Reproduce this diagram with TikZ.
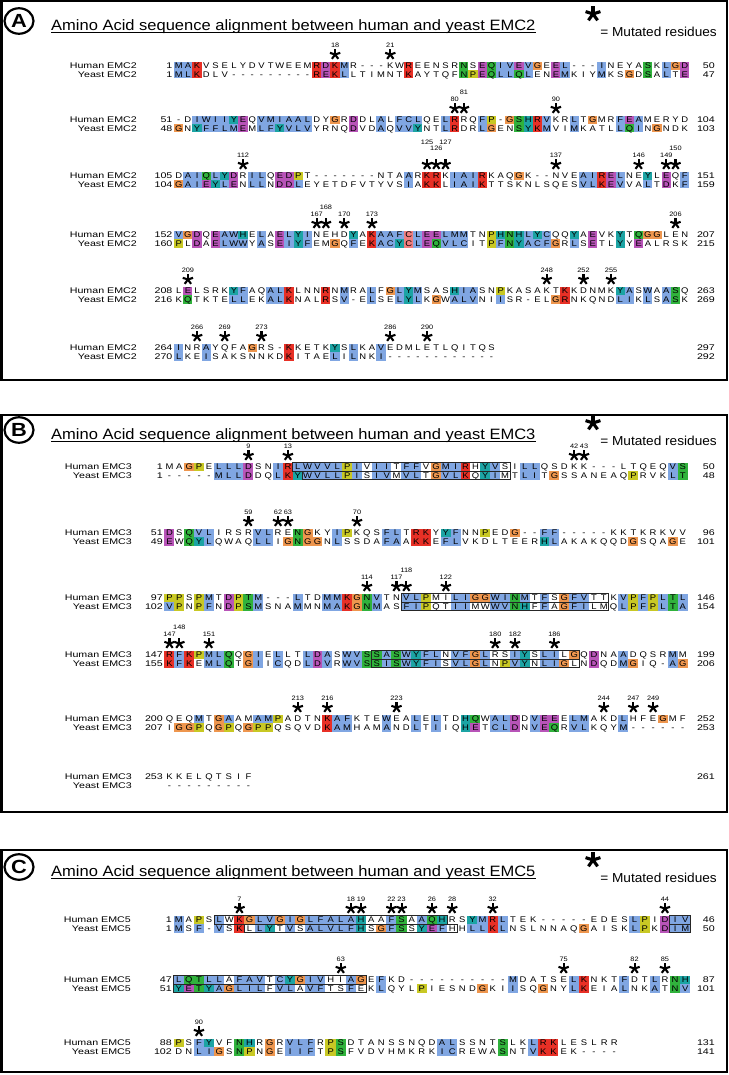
\documentclass[tikz,border=0pt]{standalone}
\usepackage{fontspec}
\setmainfont{Liberation Sans}
\newfontfamily\seqfont[FakeStretch=1.15]{Liberation Sans}
\newfontfamily\labfont[FakeStretch=1.3]{Liberation Sans}
\newfontfamily\ttlfont[FakeStretch=1.1]{Liberation Sans}
\newfontfamily\legfont[FakeStretch=1.05]{Liberation Sans}
\newfontfamily\slfont[FakeStretch=1.15]{Liberation Sans}
\newfontfamily\circfont[FakeStretch=1.15]{Liberation Sans}
\usetikzlibrary{shapes.geometric}
\definecolor{cB}{RGB}{128,166,226}
\definecolor{cK}{RGB}{232,48,38}
\definecolor{cE}{RGB}{184,84,184}
\definecolor{cN}{RGB}{48,178,60}
\definecolor{cG}{RGB}{238,150,78}
\definecolor{cP}{RGB}{200,200,36}
\definecolor{cH}{RGB}{28,164,164}
\definecolor{cC}{RGB}{240,126,126}
\colorlet{cW}{white}
\tikzset{
  alcell/.style={inner sep=0pt, outer sep=0pt, minimum width=#1pt+0.2pt, minimum height=8.4pt,
    text height=5.9pt, text depth=0pt, font=\seqfont\fontsize{8.2}{8.2}\selectfont},
  rowlab/.style={anchor=east, inner sep=0pt, text height=5.9pt, text depth=0pt, font=\labfont\fontsize{8.2}{8.2}\selectfont},
  seqnum/.style={inner sep=0pt, text height=5.9pt, text depth=0pt, font=\labfont\fontsize{8.2}{8.2}\selectfont},
  starlab/.style={inner sep=0pt, font=\slfont\fontsize{6.4}{6.4}\selectfont},
  starn/.style={minimum size=11pt, inner sep=0pt, path picture={
     \foreach \ang in {90,162,234,306,18}{\draw[line width=2.1pt] (path picture bounding box.center) -- ++(\ang:5.4pt);}}},
  legstar/.style={minimum size=17pt, inner sep=0pt, path picture={
     \foreach \ang in {90,162,234,306,18}{\draw[line width=3.1pt] (path picture bounding box.center) -- ++(\ang:7.8pt);}}},
  ttl/.style={anchor=base west, inner sep=0pt, font=\ttlfont\fontsize{15}{15}\selectfont},
  leg/.style={anchor=base east, inner sep=0pt, font=\legfont\fontsize{13}{13}\selectfont},
  circlet/.style={ellipse, draw, line width=2.2pt, minimum width=29pt, minimum height=25.5pt, inner sep=0pt,
    font=\circfont\bfseries\fontsize{19}{19}\selectfont},
  frame/.style={line width=2.5pt},
  uline/.style={line width=0.9pt},
  tmbox/.style={line width=0.9pt, draw=black!85}
}
\def\pRow{8.3}
\newcommand\setpanel[5]{\def\pX{#1}\def\pW{#2}\def\pLab{#3}\def\pNum{#4}\def\pH{Human #5}\def\pY{Yeast #5}}

\ExplSyntaxOn
\tl_new:N \l_al_r_tl
\tl_new:N \l_al_p_tl
\tl_new:N \l_al_col_tl
\tl_new:N \l_al_x_tl
\tl_new:N \l_al_yy_tl
\tl_new:N \l_al_hs_tl
\tl_new:N \l_al_ys_tl
\cs_new_protected:Npn \al_in:nnn #1#2#3
  { \tl_if_in:nnT {#1} {#2} { \tl_set:Nn \l_al_col_tl {#3} } }
\cs_new_protected:Npn \al_hyd:nn #1#2
  { \al_in:nnn {WLVIMAFCYHP} {#1} {#2} }
\cs_new_protected:Npn \al_setcolor:nn #1#2
  {
    \tl_set:Nn \l_al_col_tl {cW}
    \str_case:nn {#1}
      {
        {G} { \tl_set:Nn \l_al_col_tl {cG} }
        {P} { \tl_set:Nn \l_al_col_tl {cP} }
        {A} { \al_hyd:nn {#2} {cB} }
        {I} { \al_hyd:nn {#2} {cB} }
        {L} { \al_hyd:nn {#2} {cB} }
        {M} { \al_hyd:nn {#2} {cB} }
        {F} { \al_hyd:nn {#2} {cB} }
        {W} { \al_hyd:nn {#2} {cB} }
        {V} { \al_hyd:nn {#2} {cB} }
        {C} { \al_hyd:nn {#2} {cB} \al_in:nnn {C} {#2} {cC} }
        {H} { \al_hyd:nn {#2} {cH} }
        {Y} { \al_hyd:nn {#2} {cH} }
        {K} { \al_in:nnn {KR} {#2} {cK} }
        {R} { \al_in:nnn {KR} {#2} {cK} }
        {E} { \al_in:nnn {EDQ} {#2} {cE} }
        {D} { \al_in:nnn {ED} {#2} {cE} }
        {N} { \al_in:nnn {N} {#2} {cN} }
        {Q} { \al_in:nnn {QE} {#2} {cN} }
        {S} { \al_in:nnn {ST} {#2} {cN} }
        {T} { \al_in:nnn {ST} {#2} {cN} }
      }
  }
\cs_new_protected:Npn \al_row:nnnnnnn #1#2#3#4#5#6#7
  {
    \node[rowlab]~(#1-lab)~at~(\pLab,#3)~{#2};
    \tl_if_blank:nF {#4} { \node[seqnum,anchor=east]~(#1-s)~at~(\pNum,#3)~{#4}; }
    \tl_if_blank:nF {#5} { \node[seqnum,anchor=east]~(#1-e)~at~(715,#3)~{#5}; }
    \int_step_inline:nn { \tl_count:n {#6} }
      {
        \tl_set:Nx \l_al_r_tl { \tl_item:nn {#6} {##1} }
        \tl_set:Nx \l_al_p_tl { \tl_item:nn {#7} {##1} }
        \exp_args:NVV \al_setcolor:nn \l_al_r_tl \l_al_p_tl
        \tl_set:Nx \l_al_x_tl { \fp_eval:n { \pX + (##1 - 1) * \pW } }
        \node[alcell=\pW,fill=\l_al_col_tl]~(#1-##1)~at~(\l_al_x_tl,#3)~{\l_al_r_tl};
      }
  }
\cs_generate_variant:Nn \al_row:nnnnnnn { nnnnnVV }
\NewDocumentCommand \alblock { m m m m m m m m }
  {
    \tl_set:Nn \l_al_hs_tl {#7}
    \tl_set:Nn \l_al_ys_tl {#8}
    \al_row:nnnnnVV {#1h} {\pH} {#2} {#3} {#4} \l_al_hs_tl \l_al_ys_tl
    \tl_set:Nx \l_al_yy_tl { \fp_eval:n { #2 + \pRow } }
    \al_row:nnnnnVV {#1y} {\pY} {\l_al_yy_tl} {#5} {#6} \l_al_ys_tl \l_al_hs_tl
  }
\ExplSyntaxOff

\newcommand\alstars[3]{%
  \foreach \stc/\stn/\stv in {#3}{%
    \node[starn] (#1-st\stc) at ({\pX+(\stc-1)*\pW},{#2-11.5}) {};
    \node[starlab] (#1-sl\stc) at ({\pX+(\stc-1)*\pW},{#2-21-6.3*\stv}) {\stn};
  }}
\newcommand\panelhead[5]{%
  \draw[frame] (1.25,#2) rectangle (726.75,#3);
  \node[circlet] (#1-circ) at (19,{#4-4}) {#1};
  \node[ttl] (#1-title) at (51,{#4+5.5}) {Amino Acid sequence alignment between human and yeast #5};
  \draw[uline] ([yshift=-1.6pt]#1-title.base west) -- ([yshift=-1.6pt]#1-title.base east);
  \node[legstar] (#1-lstar) at (593,{#4-11}) {};
  \node[leg] (#1-leg) at (717,{#4+11.5}) {= Mutated residues};
}

\begin{document}
\begin{tikzpicture}[x=1pt,y=-1pt]
\fill[white] (0,0) rectangle (728,1075);
\useasboundingbox (0,0) rectangle (728,1075);

% ---------------- Panel A ----------------
\panelhead{A}{1.25}{380}{25}{EMC2}
\setpanel{178.7}{9.2}{137}{172.6}{EMC2}
\alblock{A1}{66}{1}{50}{1}{47}{MAKVSELYDVTWEEMRDKMR---KWREENSRNSEQIVEVGEEL---INEYASKLGD}{MLKDLV---------REKLLTIMNTKAYTQFNPEQLLQLENEMKIYMKSGDSALTE}
\alstars{A1}{66}{18/18/0,24/21/0}
\alblock{A2}{120}{51}{104}{48}{103}{-DIWIIYEQVMIAALDYGRDDLALFCLQELRRQFP-GSHRVKRLTGMRFEAMERYD}{GNYFFLMEMLFYVLVYRNQDVDAQVVYNTLRDRLGENSYKMVIMKATLLQINGNDK}
\alstars{A2}{120}{31/80/0,32/81/1,42/90/0}
\alblock{A3}{176}{105}{151}{104}{159}{DAIQLYDRILQEDPT-------NTAARKRKIAIRKAQGK--NVEAIRELNEYLEQF}{GAIEYLENLLNDDLEYETDFVTYVSIAKKLIAIKTTSKNLSQESVLKEVVALTDKF}
\alstars{A3}{176}{8/112/0,28/125/2,29/126/1,30/127/2,42/137/0,51/146/0,54/149/0,55/150/1}
\alblock{A4}{235}{152}{207}{160}{215}{VGDQEAWHELAELYINEHDYAKAAFCLEELMMTNPHNHLYCQQYAEVKYTQGGLEN}{PLDAELWWYASEIYFEMGQFEKACYCLEQVLCITPFNYACFGRLSETLYYEALRSK}
\alstars{A4}{235}{16/167/0,17/168/1,19/170/0,22/173/0,55/206/0}
\alblock{A5}{291}{208}{263}{216}{269}{LELSRKYFAQALKLNNRNMRALFGLYMSASHIASNPKASAKTKKDNMKYASWAASQ}{KQTKTELLEKALKNALRSV-ELSELYLKGWALVNIISR-ELGRNKQNDLIKLSASK}
\alstars{A5}{291}{2/209/0,41/248/0,45/252/0,48/255/0}
\alblock{A6}{348}{264}{297}{270}{292}{INRAYQFAGRS-KKETKYSLKAVEDMLETLQITQS}{LKEISAKSNNKDKITAELILNKI------------}
\alstars{A6}{348}{3/266/0,6/269/0,10/273/0,24/286/0,28/290/0}

% ---------------- Panel B ----------------
\panelhead{B}{415}{812}{434}{EMC3}
\setpanel{169.5}{9.87}{132}{163}{EMC3}
\alblock{B1}{467}{1}{50}{1}{48}{MAGPELLLDSNIRLWVVLPIVIITFFVGMIRHYVSILLQSDKK---LTQEQVS}{-----MLLDDQLKYWVLLPISIVMVLTGVLKQYIMTLITGSSANEAQPRVKLT}
\alstars{B1}{467}{9/9/0,13/13/0,42/42/0,43/43/0}
\alblock{B2}{533}{51}{96}{49}{101}{DSQVLIRSRVLRENGKYIPKQSFLTRKYYFNNPEDG--FF-----KKTKRKVV}{EWQYLQWAQLLIGNGGNLSSDAFAAKKEFLVKDLTEERHLAKAKQQDGSQAGE}
\alstars{B2}{533}{9/59/0,12/62/0,13/63/0,20/70/0}
\alblock{B3}{598}{97}{146}{102}{154}{PPSPMTDPTM---LTDMMKGNVTNVLPMILIGGWINMTFSGFVTTKVPFPLTL}{VPNPFNDPSMSNAMMNMAKGNMASFIPQTIIMWWVNHFFAGFILMQLPFPLTA}
\alstars{B3}{598}{21/114/0,24/117/0,25/118/1,29/122/0}
\alblock{B4}{655}{147}{199}{155}{206}{RFKPMLQQGIELLTLDASWVSSASWYFLNVFGLRSIYSLILGQDNAADQSRMM}{KFKEMLQTGIICQDLDVRWVSSISWYFISVLGLNPVYNLIGLNDQDMGIQ-AG}
\alstars{B4}{655}{1/147/0,2/148/1,5/151/0,34/180/0,36/182/0,40/186/0}
\alblock{B5}{719}{200}{252}{207}{253}{QEQMTGAAMAMPADTNKAFKTEWEALELTDHQWALDDVEEELMAKDLHFEGMF}{IGGPQGPQGPPQSQVDKAMHAMANDLTIIQHETCLDNVEQRVLKQYM------}
\alstars{B5}{719}{14/213/0,17/216/0,24/223/0,45/244/0,48/247/0,50/249/0}
\alblock{B6}{777}{253}{261}{}{}{KKELQTSIF}{---------}
\draw[tmbox] (B1h-14.north west) rectangle (B1h-35.south east);
\draw[tmbox] (B1y-15.north west) rectangle (B1y-35.south east);
\draw[tmbox] (B3h-25.north west) rectangle (B3h-45.south east);
\draw[tmbox] (B3y-25.north west) rectangle (B3y-45.south east);
\draw[tmbox] (B4h-22.north west) rectangle (B4h-42.south east);
\draw[tmbox] (B4y-22.north west) rectangle (B4y-42.south east);

% ---------------- Panel C ----------------
\panelhead{C}{850}{1071.75}{871}{EMC5}
\setpanel{178.7}{10.13}{131}{172}{EMC5}
\alblock{C1}{920}{1}{46}{1}{50}{MAPSLWKGLVGIGLFALAHAAFSAAQHRSYMRLTEK-----EDESLPIDIV}{MSF-VSKLLYTVSALVLFHSGFSSYEFHHLLKLNSLNNAQGAISKLPKDIM}
\alstars{C1}{920}{7/7/0,18/18/0,19/19/0,22/22/0,23/23/0,26/26/0,28/28/0,32/32/0,49/44/0}
\alblock{C2}{980}{47}{87}{51}{101}{LQTLLAFAVTCYGIVHIAGEFKD----------MDATSELKNKTFDTLRNH}{YETYAGLILFVLAVFTSFEKLQYLPIESNDGKIISQGNYLKEIALNKATNV}
\alstars{C2}{980}{17/63/0,39/75/0,46/82/0,49/85/0}
\alblock{C3}{1043}{88}{131}{102}{141}{PSFYVFNHRGRVLFRPSDTANSSNQDALSSNTSLKLRKLESLRR}{DNLIGSNPNGEIIFTPSFVDVHMKRKICREWASNTVKKEK----}
\alstars{C3}{1043}{3/90/0}
\draw[tmbox] (C1h-5.north west) rectangle (C1h-27.south east);
\draw[tmbox] (C1y-8.north west) rectangle (C1y-28.south east);
\draw[tmbox] (C1h-50.north west) rectangle (C1h-51.south east);
\draw[tmbox] (C1y-50.north west) rectangle (C1y-51.south east);
\draw[tmbox] (C2h-1.north west) rectangle (C2h-19.south east);
\draw[tmbox] (C2y-1.north west) rectangle (C2y-19.south east);
\end{tikzpicture}
\end{document}
